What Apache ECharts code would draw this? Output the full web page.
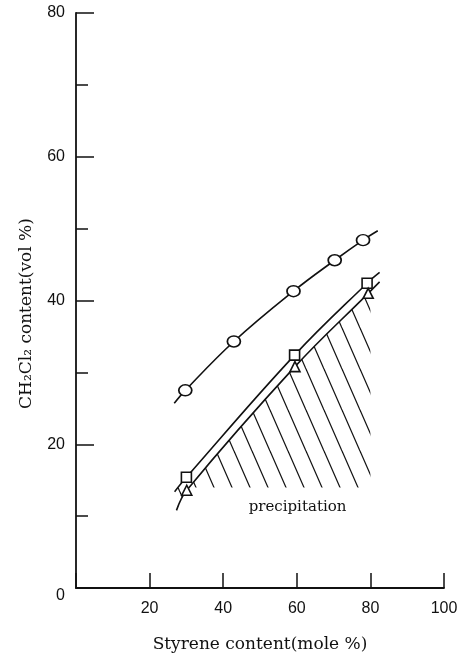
<!DOCTYPE html>
<html>
<head>
<meta charset="utf-8">
<script src="https://cdn.jsdelivr.net/npm/echarts@6/dist/echarts.min.js"></script>
<style>
  html, body { margin: 0; padding: 0; background: #fff; }
  #main { width: 464px; height: 660px; }
</style>
</head>
<body>
<div id="main"></div>
<script>
// measured points
var circleX = [29.7, 42.9, 59.1, 70.3, 78.0];
var circleY = [27.5, 34.3, 41.3, 45.6, 48.4];
var squareX = [30.0, 59.4, 79.1];
var squareY = [15.4, 32.4, 42.4];
var triangleX = [30.1, 59.5, 79.4];
var triangleY = [13.6, 30.8, 41.0];

// drawn curves (incl. ends past the points)
var circleCurveX = [26.7, 29.7, 42.9, 59.1, 70.3, 78.0, 82.0];
var circleCurveY = [25.7, 27.5, 34.3, 41.3, 45.6, 48.4, 49.7];
var squareCurveX = [26.8, 30.0, 59.4, 79.1, 82.5];
var squareCurveY = [13.4, 15.4, 32.4, 42.4, 43.9];
var triangleCurveX = [27.3, 30.1, 59.5, 79.4, 82.5];
var triangleCurveY = [10.8, 13.6, 30.8, 41.0, 42.6];

// precipitation zone (hatched), down to base line
var hatchX = [27.3, 30.1, 59.5, 80.0];
var hatchY = [10.8, 13.6, 30.8, 41.3];
var hatchBase = 14;

var xTicks = [0, 20, 40, 60, 80, 100];
var yTicks = [0, 20, 40, 60, 80];

function pairs(xs, ys) {
	return xs.map(function (x, i) { return [x, ys[i]]; });
}

// hatch pattern tile
var hatch = document.createElement('canvas');
hatch.width = 18;
hatch.height = 41;
var hctx = hatch.getContext('2d');
hctx.strokeStyle = '#111';
hctx.lineWidth = 1.3;
[-18, 0, 18].forEach(function (o) {
	hctx.beginPath();
	hctx.moveTo(o, 0);
	hctx.lineTo(o + 18, 41);
	hctx.stroke();
});

var ink = '#111';
var tickFont = 'Liberation Sans';
var wideFont = 'DejaVu Serif';

var myChart = echarts.init(document.getElementById('main'));

var curveStyle = { color: ink, width: 1.6 };
var markStyle = { color: '#fff', borderColor: ink, borderWidth: 1.6, opacity: 1 };

var option = {
	animation: false,
	backgroundColor: '#fff',
	grid: { left: 76, right: 20, top: 13, bottom: 72 },
	xAxis: {
		type: 'value',
		min: xTicks[0],
		max: xTicks[xTicks.length - 1],
		interval: 20,
		name: 'Styrene content(mole %)',
		nameLocation: 'middle',
		nameGap: 48,
		nameTextStyle: { fontFamily: wideFont, fontSize: 17, color: ink },
		axisLine: { lineStyle: { color: ink, width: 1.8 } },
		axisTick: { inside: true, length: 15, lineStyle: { color: ink, width: 1.5 } },
		axisLabel: {
			fontFamily: tickFont, fontSize: 16, color: ink, margin: 13,
			formatter: function (v) { return v === 0 ? '' : String(v); }
		},
		splitLine: { show: false }
	},
	yAxis: {
		type: 'value',
		min: yTicks[0],
		max: yTicks[yTicks.length - 1],
		interval: 20,
		name: 'CH\u2082Cl\u2082 content(vol %)',
		nameLocation: 'middle',
		nameGap: 41,
		nameTextStyle: { fontFamily: wideFont, fontSize: 17, color: ink, padding: [0, 26, 0, 0] },
		axisLine: { lineStyle: { color: ink, width: 1.8 } },
		axisTick: { inside: true, length: 18, lineStyle: { color: ink, width: 1.5 } },
		minorTick: { show: true, splitNumber: 2, length: 12, lineStyle: { color: ink, width: 1.5 } },
		axisLabel: {
			fontFamily: tickFont, fontSize: 16, color: ink, margin: 11,
			formatter: function (v) { return v === 0 ? '{z|0}' : String(v); },
			rich: { z: { fontFamily: tickFont, fontSize: 16, color: ink, padding: [16, 0, 0, 0] } }
		},
		splitLine: { show: false }
	},
	series: [{
		name: 'precipitation',
		type: 'line',
		data: pairs(hatchX, hatchY),
		smooth: 0.4,
		symbol: 'none',
		lineStyle: { width: 0 },
		areaStyle: { color: { image: hatch, repeat: 'repeat' }, opacity: 1, origin: hatchBase },
		markPoint: {
			symbol: 'circle',
			symbolSize: 0,
			data: [{ coord: [60.2, 11.3] }],
			label: {
				show: true, position: 'inside', formatter: 'precipitation',
				fontFamily: wideFont, fontSize: 15, color: ink
			}
		},
		z: 1
	}, {
		type: 'line',
		data: pairs(circleCurveX, circleCurveY),
		smooth: 0.4, symbol: 'none', lineStyle: curveStyle, z: 2
	}, {
		type: 'line',
		data: pairs(squareCurveX, squareCurveY),
		smooth: 0.4, symbol: 'none', lineStyle: curveStyle, z: 2
	}, {
		type: 'line',
		data: pairs(triangleCurveX, triangleCurveY),
		smooth: 0.4, symbol: 'none', lineStyle: curveStyle, z: 2
	}, {
		type: 'scatter',
		data: pairs(circleX, circleY),
		symbol: 'circle', symbolSize: [13, 11],
		itemStyle: markStyle, z: 3
	}, {
		type: 'scatter',
		data: pairs(squareX, squareY),
		symbol: 'rect', symbolSize: 10,
		itemStyle: markStyle, z: 3
	}, {
		type: 'scatter',
		data: pairs(triangleX, triangleY),
		symbol: 'triangle', symbolSize: 10,
		itemStyle: markStyle, z: 3
	}]
};

myChart.setOption(option);
</script>
</body>
</html>
